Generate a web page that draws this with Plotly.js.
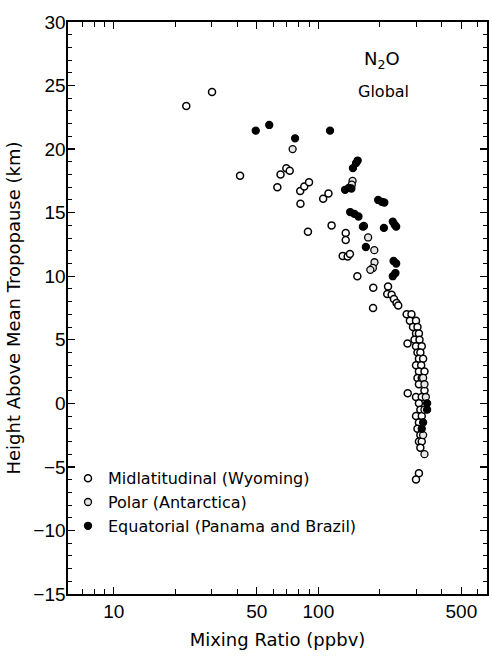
<!DOCTYPE html>
<html>
<head>
<meta charset="utf-8">
<script src="https://cdn.plot.ly/plotly-3.0.1.min.js"></script>
<style>html,body{margin:0;padding:0;background:#fff;}#chart{width:492px;height:656px;}</style>
</head>
<body>
<div id="chart"></div>
<script>
// Midlatitudinal (Wyoming) - open circles
const midX = [22.6, 30.2, 41.4, 69.7, 72.4, 65.3, 63, 81.5, 85.3, 90, 81.7, 105.5, 112, 116, 88.9,
  136, 136, 131.5, 139, 142.6, 155, 166.8, 185.4, 219, 217, 228, 234, 241, 245.6, 185,
  270, 285, 280, 300, 290, 305, 300, 310, 295, 312, 272.6, 300, 320, 305, 315, 310, 325, 300, 318,
  310, 330, 305, 320, 310, 330, 273.3, 300, 320, 310, 315, 300, 320, 310, 305, 315, 310, 320, 315, 310, 300];
const midY = [23.4, 24.5, 17.9, 18.5, 18.3, 18.0, 17.0, 16.7, 17.05, 17.4, 15.7, 16.1, 16.5, 14.0, 13.5,
  13.4, 12.85, 11.6, 11.55, 11.75, 10.0, 13.95, 9.1, 9.2, 8.6, 8.55, 8.2, 7.9, 7.7, 7.5,
  7.0, 7.0, 6.5, 6.5, 6.0, 6.0, 5.5, 5.5, 5.0, 5.0, 4.7, 4.5, 4.5, 4.0, 4.0, 3.5, 3.5, 3.0, 3.0,
  2.5, 2.5, 2.0, 2.0, 1.5, 1.0, 0.8, 0.5, 0.5, 0.0, -0.5, -1.0, -1.0, -1.5, -2.0, -2.5, -3.0, -3.0, -3.5, -5.5, -6.0];
// Polar (Antarctica)
const polX = [74.8, 146.9, 145.6, 175, 187.6, 188, 184.6, 179.4, 325, 330, 335, 330, 325, 330];
const polY = [20.0, 17.5, 17.2, 13.05, 12.05, 11.1, 10.65, 10.5, 2.0, 1.5, 0.5, -0.5, -2.5, -4.0];
// Equatorial (Panama and Brazil) - filled circles
const eqX = [49.4, 57.5, 76.9, 114, 135, 140.6, 145, 147.5, 152.8, 155.6, 196, 204, 210, 143, 150, 157,
  165, 170.6, 209, 231, 236, 240, 233, 240, 231, 238, 340, 340, 325, 320];
const eqY = [21.45, 21.9, 20.85, 21.45, 16.8, 16.95, 16.9, 18.5, 18.9, 19.1, 16.0, 15.85, 15.8, 15.05, 14.9, 14.7,
  13.9, 12.3, 13.8, 14.3, 14.05, 13.9, 11.2, 11.0, 10.0, 10.25, 0.0, -0.5, -1.5, -2.0];

const xTickVals = [10, 50, 100, 500];
const xTickText = ['10', '50', '100', '500'];
const xMinor = [7, 8, 9, 20, 30, 40, 60, 70, 80, 90, 200, 300, 400, 600];
const yTickVals = [-15, -10, -5, 0, 5, 10, 15, 20, 25, 30];

const tickFont = {family: 'Liberation Sans, Arial, sans-serif', size: 19, color: '#000'};
const txtFont = {family: 'DejaVu Sans, sans-serif', size: 16, color: '#000'};

const mk = (fill, lw, sz) => ({symbol: 'circle', size: sz, color: fill, line: {color: '#000', width: lw}});

const data = [
  {x: midX, y: midY, type: 'scatter', mode: 'markers', name: 'Midlatitudinal (Wyoming)', marker: mk('#fff', 1.5, 7)},
  {x: polX, y: polY, type: 'scatter', mode: 'markers', name: 'Polar (Antarctica)', marker: mk('#e6e6e6', 1.3, 7)},
  {x: eqX, y: eqY, type: 'scatter', mode: 'markers', name: 'Equatorial (Panama and Brazil)', marker: mk('#000', 1.3, 7)}
];

const layout = {
  width: 492, height: 656,
  margin: {l: 68, r: 5, t: 22, b: 62},
  paper_bgcolor: '#fff', plot_bgcolor: '#fff',
  showlegend: true,
  legend: {x: 0.0, y: 0.232, xanchor: 'left', yanchor: 'top', bgcolor: 'rgba(0,0,0,0)', font: txtFont, tracegroupgap: 0},
  xaxis: {
    type: 'log', range: [Math.log10(5.97), Math.log10(667)],
    tickmode: 'array', tickvals: xTickVals, ticktext: xTickText,
    ticks: 'inside', ticklen: 7, tickwidth: 1.3, tickcolor: '#000',
    minor: {tickmode: 'array', tickvals: xMinor, ticks: 'inside', ticklen: 5, tickwidth: 1, tickcolor: '#000', showgrid: false},
    showgrid: false, zeroline: false, showline: true, linecolor: '#000', linewidth: 1.6, mirror: 'allticks',
    tickfont: tickFont,
    title: {text: 'Mixing Ratio (ppbv)', font: {family: 'DejaVu Sans, sans-serif', size: 18, color: '#000'}, standoff: 12}
  },
  yaxis: {
    range: [-15, 30],
    tickmode: 'array', tickvals: yTickVals,
    ticks: 'inside', ticklen: 7, tickwidth: 1.3, tickcolor: '#000',
    minor: {dtick: 1, ticks: 'inside', ticklen: 4, tickwidth: 1, tickcolor: '#000', showgrid: false},
    showgrid: false, zeroline: false, showline: true, linecolor: '#000', linewidth: 1.6, mirror: 'allticks',
    tickfont: tickFont, ticklabelstandoff: -3,
    title: {text: 'Height Above Mean Tropopause (km)', font: {family: 'DejaVu Sans, sans-serif', size: 18, color: '#000'}, standoff: 8}
  },
  annotations: [
    {xref: 'paper', yref: 'paper', x: (382 - 68) / 419, y: (594 - 60) / 572, text: 'N<sub>2</sub>O', showarrow: false,
     font: {family: 'DejaVu Sans, sans-serif', size: 18, color: '#000'}, xanchor: 'center', yanchor: 'middle'},
    {xref: 'paper', yref: 'paper', x: (383 - 68) / 419, y: (594 - 91) / 572, text: 'Global', showarrow: false,
     font: {family: 'DejaVu Sans, sans-serif', size: 16, color: '#000'}, xanchor: 'center', yanchor: 'middle'}
  ]
};

Plotly.newPlot('chart', data, layout, {displayModeBar: false, staticPlot: true});
</script>
</body>
</html>
